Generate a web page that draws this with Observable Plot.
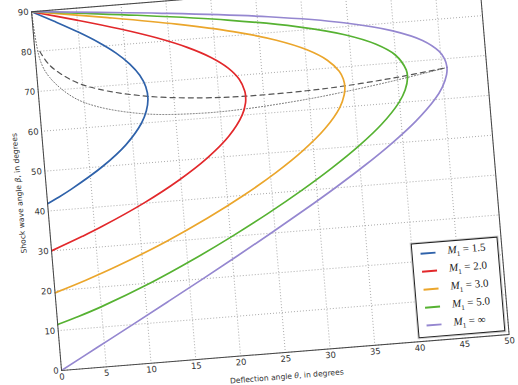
<!DOCTYPE html>
<html>
<head>
<meta charset="utf-8">
<script src="https://cdn.jsdelivr.net/npm/d3@7"></script>
<script src="https://cdn.jsdelivr.net/npm/@observablehq/plot@0.6"></script>
<style>
  html, body { margin: 0; padding: 0; background: #fff; width: 518px; height: 385px; overflow: hidden; }
  #wrap { position: absolute; }
  .lbl { position: absolute; font-family: "DejaVu Sans", sans-serif; font-size: 7.6px; color: #333; white-space: nowrap; text-align: center; line-height: 9px; }
  #legend { position: absolute; box-sizing: border-box; background: #fff; border: 1px solid #222; box-shadow: 0 0 0 1px #ccc; padding: 1px 0 0 8px; }
  .row { height: 18px; display: flex; align-items: center; }
  .sw { width: 15px; height: 2px; margin-right: 12px; }
  .tx { font-family: "Liberation Serif", "DejaVu Serif", serif; font-size: 11px; color: #222; }
</style>
</head>
<body>
<div id="wrap"></div>
<script>
// ---- data (theta = deflection angle, beta = shock wave angle, degrees) ----
const seriesNames = ["M1 = 1.5", "M1 = 2.0", "M1 = 3.0", "M1 = 5.0", "M1 = inf"];
const legendLabels = ["1.5", "2.0", "3.0", "5.0", "∞"];
const seriesColors = ["#2f62aa", "#e2282b", "#eba62c", "#56b232", "#9587d0"];

const beta15  = [41.81, 43, 45, 50, 55, 60, 63, 66, 69, 72, 75, 78, 81, 84, 87, 90];
const theta15 = [0, 1.08, 2.78, 6.44, 9.26, 11.16, 11.82, 12.11, 11.98, 11.42, 10.42, 9.00, 7.17, 4.99, 2.56, 0];

const beta20  = [30, 33, 35, 40, 45, 50, 55, 60, 63, 65, 66, 69, 72, 75, 78, 81, 84, 87, 90];
const theta20 = [0, 3.56, 5.75, 10.63, 14.74, 18.13, 20.73, 22.41, 22.90, 22.97, 22.92, 22.42, 21.30, 19.49, 16.94, 13.62, 9.57, 4.94, 0];

const beta30  = [19.47, 22, 25, 30, 35, 40, 45, 50, 55, 60, 63, 65, 67, 69, 72, 75, 78, 81, 84, 87, 88.5, 90];
const theta30 = [0, 3.53, 7.28, 12.77, 17.58, 21.85, 25.62, 28.86, 31.49, 33.33, 33.92, 34.07, 33.97, 33.59, 32.37, 30.21, 26.90, 22.20, 15.99, 8.42, 4.27, 0];

const beta50  = [11.54, 13, 15, 20, 25, 30, 35, 40, 45, 50, 55, 60, 63, 66, 68, 72, 75, 78, 81, 84, 87, 88.5, 90];
const theta50 = [0, 2.21, 4.91, 10.67, 15.64, 20.17, 24.38, 28.28, 31.86, 35.08, 37.83, 39.92, 40.73, 41.11, 41.04, 39.94, 37.93, 34.54, 29.26, 21.68, 11.68, 5.96, 0];

const betaInf  = [0, 5, 10, 15, 20, 25, 30, 35, 40, 45, 50, 55, 60, 63, 66, 68, 70, 72, 75, 78, 81, 84, 87, 88.5, 90];
const thetaInf = [0, 4.16, 8.32, 12.44, 16.53, 20.56, 24.50, 28.34, 32.04, 35.54, 38.76, 41.61, 43.90, 44.89, 45.47, 45.58, 45.39, 44.84, 43.12, 39.90, 34.54, 26.23, 14.45, 7.43, 0];

// locus of maximum deflection (dashed)
const thetaMax = [0.558, 1.515, 3.94, 6.66, 12.11, 18.12, 22.97, 29.80, 34.07, 38.77, 41.11, 44.43, 45.58];
const betaMax  = [79.93, 76.30, 71.97, 69.40, 66.59, 65.13, 64.67, 64.79, 65.24, 66.07, 66.60, 67.45, 67.79];

// sonic line M2 = 1 (dotted)
const thetaSonic = [0, 0.515, 1.406, 3.70, 6.32, 11.69, 17.76, 22.71, 29.67, 34.00, 38.75, 41.11, 44.43, 45.58];
const betaSonic  = [90, 77.68, 73.25, 68.07, 65.12, 62.25, 61.31, 61.49, 62.65, 63.78, 65.26, 66.09, 67.33, 67.79];

const xTicks = [0, 5, 10, 15, 20, 25, 30, 35, 40, 45, 50];
const yTicks = [0, 10, 20, 30, 40, 50, 60, 70, 80, 90];

// ---- tables ----
const curveBetas = [beta15, beta20, beta30, beta50, betaInf];
const curveThetas = [theta15, theta20, theta30, theta50, thetaInf];
const curves = [];
seriesNames.forEach((s, i) => {
  curveBetas[i].forEach((b, j) => curves.push({series: s, beta: b, theta: curveThetas[i][j]}));
});
const maxLocus = thetaMax.map((t, i) => ({theta: t, beta: betaMax[i]}));
const sonicLocus = thetaSonic.map((t, i) => ({theta: t, beta: betaSonic[i]}));

// ---- layout ----
const W = 449, H = 360;
const mL = 45, mR = 12, mT = 10, mB = 40;
const originX = 61, originY = 370;

const chart = Plot.plot({
  width: mL + W + mR,
  height: mT + H + mB,
  marginLeft: mL, marginRight: mR, marginTop: mT, marginBottom: mB,
  x: {domain: [0, 50]},
  y: {domain: [0, 90]},
  color: {domain: seriesNames, range: seriesColors},
  style: {fontFamily: "DejaVu Sans, sans-serif", fontSize: "8.5px", color: "#333", background: "transparent", overflow: "visible"},
  marks: [
    Plot.gridX(xTicks, {stroke: "#999", strokeOpacity: 1, strokeDasharray: "1,2", strokeWidth: 0.8}),
    Plot.gridY(yTicks, {stroke: "#999", strokeOpacity: 1, strokeDasharray: "1,2", strokeWidth: 0.8}),
    Plot.line(sonicLocus, {x: "theta", y: "beta", stroke: "#666", strokeWidth: 0.9, strokeDasharray: "1,2", curve: "catmull-rom"}),
    Plot.line(maxLocus, {x: "theta", y: "beta", stroke: "#555", strokeWidth: 1.2, strokeDasharray: "5,4", curve: "catmull-rom"}),
    Plot.line(curves, {x: "theta", y: "beta", z: "series", stroke: "series", strokeWidth: 1.7, curve: "catmull-rom", clip: true}),
    Plot.frame({stroke: "#444", strokeWidth: 1}),
    Plot.axisX(xTicks, {tickSize: 0, tickPadding: 3, label: null, fill: "#333"}),
    Plot.axisY(yTicks, {tickSize: 0, tickPadding: 3, label: null, fill: "#333"})
  ]
});

const wrap = document.getElementById("wrap");
wrap.style.left = (originX - mL) + "px";
wrap.style.top = (originY - (mT + H)) + "px";
wrap.style.width = (mL + W + mR) + "px";
wrap.style.height = (mT + H + mB) + "px";
wrap.style.transformOrigin = mL + "px " + (mT + H) + "px";
wrap.style.transform = "matrix(0.9968, -0.0801, 0.0833, 0.9965, 0, 0)";
wrap.appendChild(chart);

// axis titles
const xl = document.createElement("div");
xl.className = "lbl";
xl.style.left = mL + "px";
xl.style.width = W + "px";
xl.style.top = (mT + H + 20) + "px";
xl.innerHTML = "Deflection angle <i>θ</i>, in degrees";
wrap.appendChild(xl);

const yl = document.createElement("div");
yl.className = "lbl";
yl.style.width = H + "px";
yl.style.left = (mL - 27 - H / 2) + "px";
yl.style.top = (mT + H / 2 - 4.5) + "px";
yl.style.transform = "rotate(-90deg)";
yl.innerHTML = "Shock wave angle <i>β</i>, in degrees";
wrap.appendChild(yl);

// legend
const lg = document.createElement("div");
lg.id = "legend";
const LW = 87, LH = 95;
lg.style.width = LW + "px";
lg.style.height = LH + "px";
lg.style.left = (mL + W - 3 - LW) + "px";
lg.style.top = (mT + H - 3 - LH) + "px";
seriesNames.forEach((s, i) => {
  const r = document.createElement("div");
  r.className = "row";
  r.innerHTML = `<span class="sw" style="background:${seriesColors[i]}"></span><span class="tx"><i>M</i><sub style="font-size:7px">1</sub> = ${legendLabels[i]}</span>`;
  lg.appendChild(r);
});
wrap.appendChild(lg);
</script>
</body>
</html>
